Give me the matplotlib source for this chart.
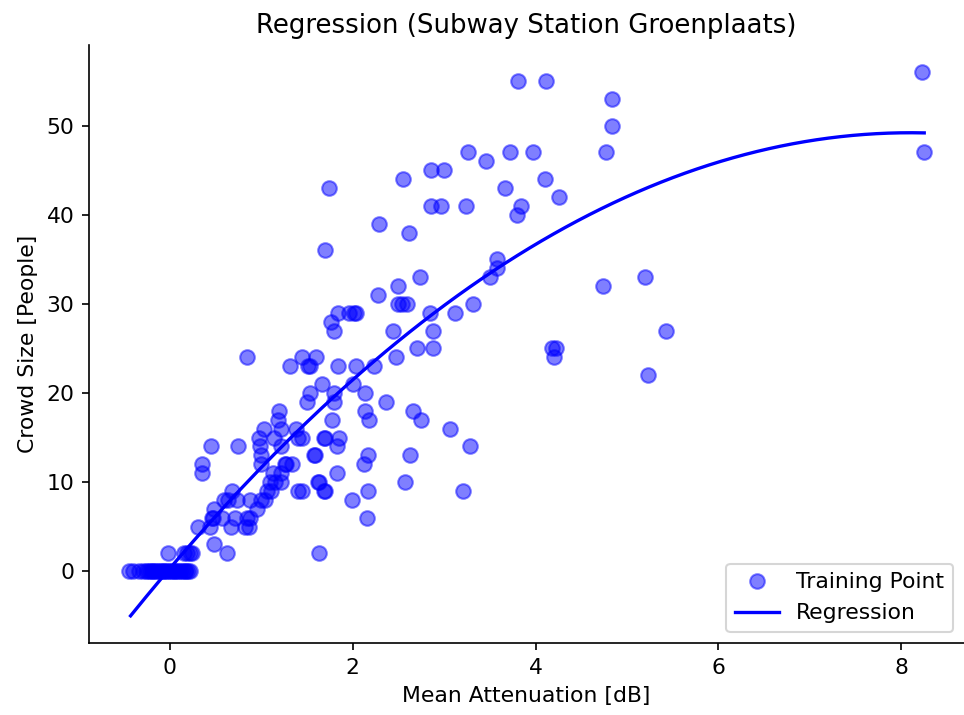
import numpy as np
import matplotlib
matplotlib.use("Agg")
import matplotlib.pyplot as plt

# Training points: mean attenuation [dB] and crowd size [people]
att = [
    # y = 0 cluster
    -0.45, -0.40, -0.34, -0.29, -0.26, -0.24, -0.22, -0.20, -0.18, -0.16, -0.14, -0.12,
    -0.10, -0.08, -0.06, -0.04, -0.02, 0.00, 0.02, 0.04, 0.06, 0.08, 0.10, 0.12,
    0.14, 0.16, 0.18, 0.20, 0.22,
    # low values
    -0.02, 0.15, 0.22, 0.19, 0.24, 0.62, 1.63, 0.48,
    0.31, 0.44, 0.67, 0.82, 0.86,
    0.46, 0.47, 0.57, 0.71, 0.84, 0.88, 2.16,
    0.48, 0.95,
    0.59, 0.64, 0.73, 0.88, 1.00, 1.04, 1.99,
    0.68, 1.06, 1.11, 1.40, 1.69, 1.44, 1.70, 2.17, 3.21,
    1.09, 1.15, 1.22, 1.62, 1.63, 2.57,
    1.13, 1.22, 1.83, 0.35,
    0.35, 1.00, 1.26, 1.27, 1.33, 2.12,
    1.00, 1.58, 1.59, 2.17, 2.63,
    0.45, 0.75, 0.98, 1.21, 1.83, 3.28,
    0.97, 1.14, 1.40, 1.44, 1.68, 1.70, 1.85,
    1.03, 1.22, 1.38, 3.06,
    1.18, 1.77, 2.18, 2.75,
    1.19, 2.13, 2.66,
    1.50, 1.79, 2.36,
    1.53, 1.80, 2.13,
    1.66, 2.00,
    5.23,
    1.31, 1.51, 1.53, 1.84, 2.04, 2.23,
    0.84, 1.45, 1.60, 2.47, 4.20,
    2.70, 2.88, 4.18, 4.22,
    1.80, 2.44, 2.88, 5.43,
    1.76,
    1.84, 1.96, 2.01, 2.04, 2.85, 3.12,
    2.49, 2.54, 2.59, 3.32,
    2.28,
    2.50, 4.74,
    2.73, 3.50, 5.20,
    3.58,
    3.58,
    1.70,
    2.61,
    2.29,
    3.80,
    2.86, 2.96, 3.24, 3.84,
    4.26,
    1.745, 3.66,
    2.55, 4.10,
    2.86, 3.00,
    3.46,
    3.26, 3.72, 3.97, 4.77, 8.25,
    4.84,
    4.84,
    3.81, 4.11,
    8.23,
]
crowd = [
    0, 0, 0, 0, 0, 0, 0, 0, 0, 0, 0, 0,
    0, 0, 0, 0, 0, 0, 0, 0, 0, 0, 0, 0,
    0, 0, 0, 0, 0,
    2, 2, 2, 2, 2, 2, 2, 3,
    5, 5, 5, 5, 5,
    6, 6, 6, 6, 6, 6, 6,
    7, 7,
    8, 8, 8, 8, 8, 8, 8,
    9, 9, 9, 9, 9, 9, 9, 9, 9,
    10, 10, 10, 10, 10, 10,
    11, 11, 11, 11,
    12, 12, 12, 12, 12, 12,
    13, 13, 13, 13, 13,
    14, 14, 14, 14, 14, 14,
    15, 15, 15, 15, 15, 15, 15,
    16, 16, 16, 16,
    17, 17, 17, 17,
    18, 18, 18,
    19, 19, 19,
    20, 20, 20,
    21, 21,
    22,
    23, 23, 23, 23, 23, 23,
    24, 24, 24, 24, 24,
    25, 25, 25, 25,
    27, 27, 27, 27,
    28,
    29, 29, 29, 29, 29, 29,
    30, 30, 30, 30,
    31,
    32, 32,
    33, 33, 33,
    34,
    35,
    36,
    38,
    39,
    40,
    41, 41, 41, 41,
    42,
    43, 43,
    44, 44,
    45, 45,
    46,
    47, 47, 47, 47, 47,
    50,
    53,
    55, 55,
    56,
]

# Regression polynomial coefficients (highest power first) and its x-range
reg_coef = [-0.745, 12.07, 0.32]
reg_range = [-0.43, 8.25]

plt.rcParams['font.size'] = 10.5

fig = plt.figure(figsize=(964 / 150, 715 / 150), dpi=150)
ax = fig.add_axes([0.0923, 0.1007, 0.9077, 0.8363])

ax.plot(att, crowd, 'o', color='blue', alpha=0.5, markersize=7,
        label='Training Point')
xr = np.linspace(reg_range[0], reg_range[1], 200)
ax.plot(xr, np.polyval(reg_coef, xr), color='blue', lw=1.6, label='Regression')

ax.set_title('Regression (Subway Station Groenplaats)', fontsize=12.5)
ax.set_xlabel('Mean Attenuation [dB]')
ax.set_ylabel('Crowd Size [People]')
ax.spines['top'].set_visible(False)
ax.spines['right'].set_visible(False)
ax.legend(loc='lower right')

fig.savefig('out.png', dpi=150)
